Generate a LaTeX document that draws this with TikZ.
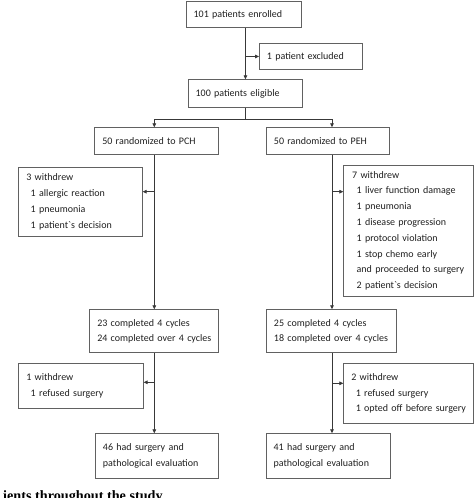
\documentclass[tikz,border=0pt]{standalone}
\usepackage{fontspec}
\setmainfont{Carlito}
\newfontfamily\capfont{Liberation Serif}
\usetikzlibrary{arrows.meta}
\begin{document}
\begin{tikzpicture}[x=1pt,y=-1pt,
  bx/.style={draw=black!62, line width=0.9pt, anchor=north west, inner xsep=7.5pt, inner ysep=0pt,
    align=left, text=black!88, font=\fontsize{10}{15.8}\selectfont},
  ln/.style={draw=black!78, line width=0.8pt},
  arr/.style={ln, -{Triangle[length=4pt,width=3.6pt]}}]
\useasboundingbox (0,0) rectangle (474,498);
\clip (0,0) rectangle (474,498);
\newcommand{\ind}{\hspace*{4.5pt}}
% boxes
\node[bx, minimum width=115pt, minimum height=26pt, text width=100pt] (enrolled) at (185.7,1) {101 patients enrolled};
\node[bx, minimum width=102.7pt, minimum height=26.6pt, text width=87.7pt] (excluded) at (259,42.7) {1 patient excluded};
\node[bx, minimum width=114.6pt, minimum height=27.4pt, text width=99.6pt] (eligible) at (187.7,79.3) {100 patients eligible};
\node[bx, minimum width=124pt, minimum height=27pt, text width=109pt] (pch) at (94.3,127.3) {50 randomized to PCH};
\node[bx, minimum width=123.3pt, minimum height=26.4pt, text width=108.3pt] (peh) at (266,127.3) {50 randomized to PEH};
\node[bx, minimum width=123.4pt, minimum height=69.3pt, text width=108.4pt] (w3) at (18.3,166.7)
  {3 withdrew\\ \ind 1 allergic reaction\\ \ind 1 pneumonia\\ \ind 1 patient\textasciigrave s decision};
\node[bx, minimum width=130pt, minimum height=131.3pt, inner xsep=8.4pt, text width=113.2pt] (w7) at (343.3,164.7)
  {7 withdrew\\ \ind 1 liver function damage\\ \ind 1 pneumonia\\ \ind 1 disease progression\\ \ind 1 protocol violation\\ \ind 1 stop chemo early\\ \ind \mbox{and proceeded to surgery}\\ \ind 2 patient\textasciigrave s decision};
\node[bx, minimum width=128.4pt, minimum height=43pt, text width=113.4pt, font=\fontsize{10}{15}\selectfont] (c23) at (89.3,309.3)
  {\mbox{23 completed 4 cycles}\\\mbox{24 completed over 4 cycles}};
\node[bx, minimum width=129.7pt, minimum height=43pt, text width=114.7pt, font=\fontsize{10}{15}\selectfont] (c25) at (266,309.3)
  {\mbox{25 completed 4 cycles}\\\mbox{18 completed over 4 cycles}};
\node[bx, minimum width=124.4pt, minimum height=45.6pt, text width=109.4pt] (w1) at (18.3,362.7)
  {1 withdrew\\ \ind 1 refused surgery};
\node[bx, minimum width=130pt, minimum height=60.6pt, text width=115pt] (w2) at (343.3,362.7)
  {2 withdrew\\ \ind 1 refused surgery\\ \ind \mbox{1 opted off before surgery}};
\node[bx, minimum width=123.3pt, minimum height=45pt, text width=108.3pt] (s46) at (95,433.3)
  {46 had surgery and\\pathological evaluation};
\node[bx, minimum width=124.3pt, minimum height=45pt, text width=109.3pt] (s41) at (265.7,433.3)
  {41 had surgery and\\pathological evaluation};
% caption (cut off at the bottom edge, as in the reference)
\node[anchor=base west, inner sep=0pt, font=\capfont\bfseries\fontsize{14.2}{16}\selectfont, text=black] (cap) at (3,500) {ients throughout the study};
% connectors
\draw[arr] (enrolled.south -| eligible.north) -- (eligible.north);
\draw[arr] (excluded.west -| eligible.north) -- (excluded.west);
\coordinate (L) at (154.3,119.3);
\coordinate (R) at (332,119.3);
\draw[ln] (eligible.south) -- (eligible.south |- L);
\draw[arr] (eligible.south |- L) -| (L |- pch.north);
\draw[arr] (eligible.south |- L) -| (R |- peh.north);
\draw[arr] (L |- pch.south) -- (L |- c23.north);
\draw[arr] (R |- peh.south) -- (R |- c25.north);
\coordinate (w3a) at ([yshift=-25pt]w3.north east);
\coordinate (w7a) at ([yshift=-27pt]w7.north west);
\draw[arr] (w3a -| L) -- (w3a);
\draw[arr] (w7a -| R) -- (w7a);
\draw[arr] (L |- c23.south) -- (L |- s46.north);
\draw[arr] (R |- c25.south) -- (R |- s41.north);
\coordinate (w1a) at ([yshift=-19.6pt]w1.north east);
\coordinate (w2a) at ([yshift=-20.6pt]w2.north west);
\draw[arr] (w1a -| L) -- (w1a);
\draw[arr] (w2a -| R) -- (w2a);
\end{tikzpicture}
\end{document}
